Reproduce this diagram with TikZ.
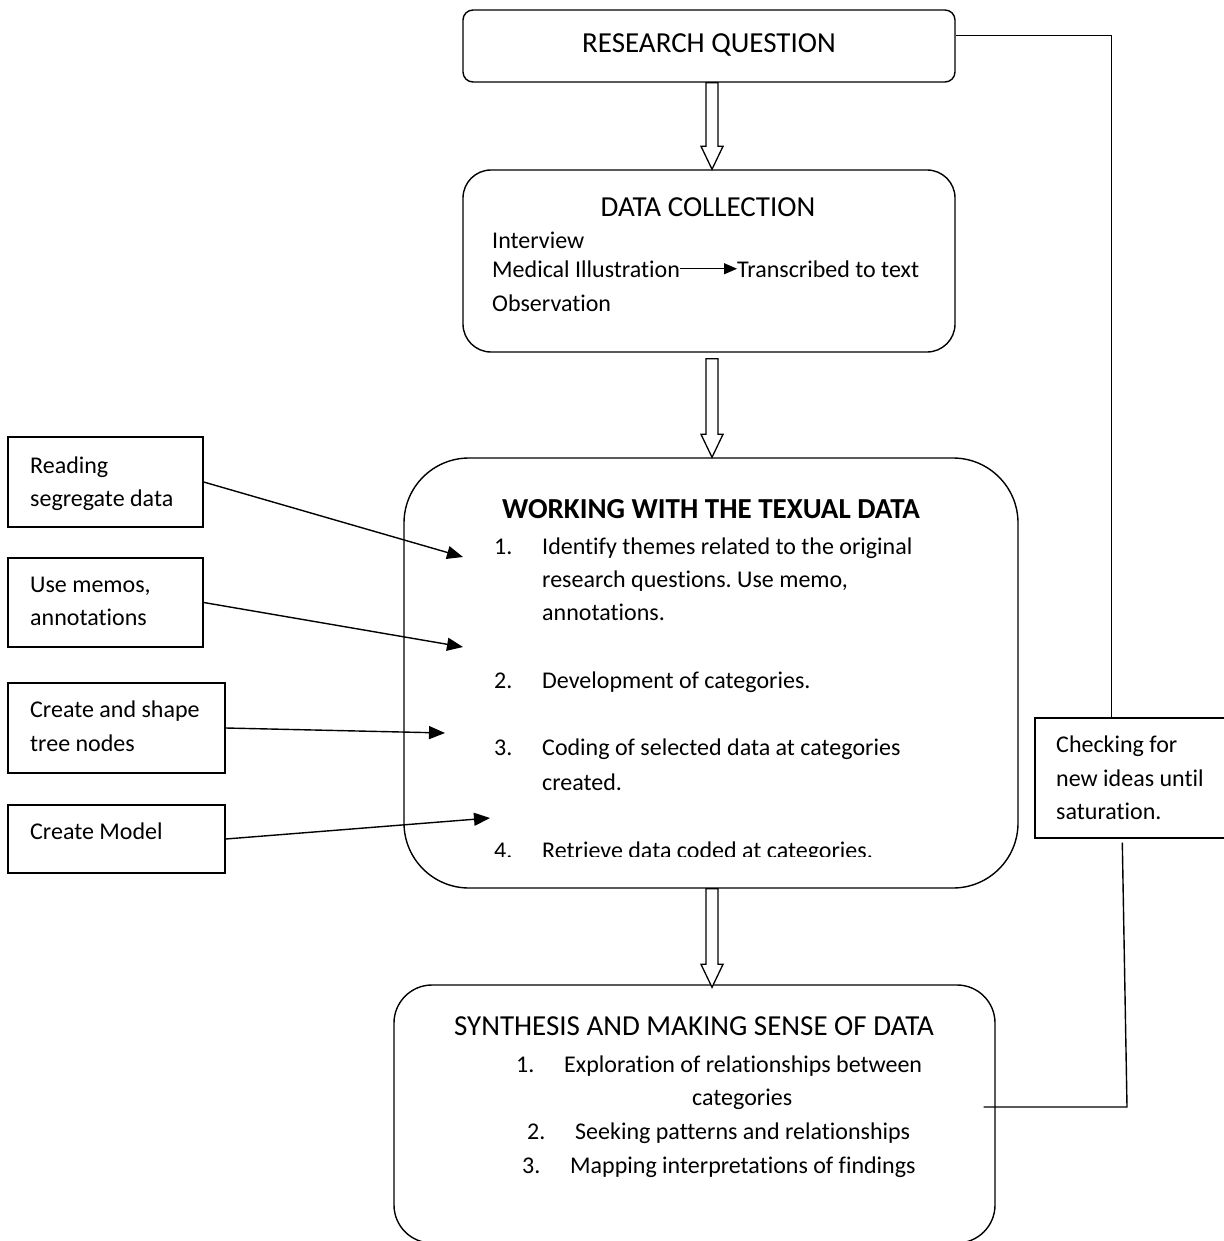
\documentclass[tikz,border=0pt]{standalone}
\usepackage{fontspec}
\setmainfont{Carlito}[Ligatures={NoCommon,NoContextual}]
\usetikzlibrary{arrows.meta,calc}
\frenchspacing
\newcommand\bodyfont{\fontsize{24}{30}\selectfont}
\newcommand\headfont{\fontsize{29}{34}\selectfont}
\newcommand\harrow[2]{%
  \draw[hol] ($(#1)+(-6,0)$) -- ($(#2)+(-6,-23)$) -- ($(#2)+(-11,-23)$) -- (#2)
    -- ($(#2)+(11,-23)$) -- ($(#2)+(6,-23)$) -- ($(#1)+(6,0)$) -- cycle;}
\begin{document}
\begin{tikzpicture}[x=1pt,y=-1pt,
  box/.style={draw, line width=1.4pt, inner sep=0pt},
  lw/.style={anchor=base west, inner sep=0pt, font=\bodyfont},
  lc/.style={anchor=base, inner sep=0pt, font=\bodyfont},
  hd/.style={anchor=base, inner sep=0pt, font=\headfont},
  arr/.style={line width=1.4pt, -{Triangle[length=16pt,width=13pt]}},
  arrs/.style={line width=1.2pt, -{Triangle[length=13pt,width=11pt]}},
  ln/.style={line width=1.4pt},
  hol/.style={draw, line width=1.3pt, fill=white, line join=miter}]
\useasboundingbox (0,0) rectangle (1223,1241);
\fill[white] (0,0) rectangle (1223,1241);

% main boxes
\node[box, rounded corners=10pt, minimum width=492pt, minimum height=72pt] (rq) at (709,46) {};
\node[box, rounded corners=28pt, minimum width=492pt, minimum height=182pt] (dc) at (709,261) {};
\node[box, rounded corners=65pt, minimum width=614pt, minimum height=430pt] (wk) at (711,673) {};
\node[box, rounded corners=38pt, minimum width=601pt, minimum height=258pt] (sy) at (694.5,1114) {};

% side boxes
\node[box, minimum width=195pt, minimum height=90pt] (b1) at (105.5,482) {};
\node[box, minimum width=195pt, minimum height=89pt] (b2) at (105.5,602.5) {};
\node[box, minimum width=217pt, minimum height=90pt] (b3) at (116.5,728) {};
\node[box, minimum width=217pt, minimum height=68pt] (b4) at (116.5,839) {};
\node[box, minimum width=190pt, minimum height=120pt] (ck) at (1130,778) {};

% texts: research question
\node[hd] (trq) at (709,53) {RESEARCH QUESTION};

% data collection
\node[hd] (tdc) at (708,217) {DATA COLLECTION};
\node[lw] (tiv) at (492,248) {Interview};
\node[lw] (tmi) at (492,277) {Medical Illustration};
\node[lw] (ttt) at (737,277) {Transcribed to text};
\node[lw] (tob) at (492,311) {Observation};
\draw[arrs] (tmi.east) -- (ttt.west);

% working box
\node[hd, font=\headfont\bfseries] (twk) at (711,518) {WORKING WITH THE TEXUAL DATA};
\node[lw] (n1) at (494,554) {1.};
\node[lw] (w1a) at (542,554) {Identify themes related to the original};
\node[lw] (w1b) at (542,587) {research questions. Use memo,};
\node[lw] (w1c) at (542,620) {annotations.};
\node[lw] (n2) at (494,688) {2.};
\node[lw] (w2a) at (542,688) {Development of categories.};
\node[lw] (n3) at (494,755) {3.};
\node[lw] (w3a) at (542,755) {Coding of selected data at categories};
\node[lw] (w3b) at (542,790) {created.};
\begin{scope}
\clip (420,820) rectangle (1000,856);
\node[lw] (n4) at (494,858) {4.};
\node[lw] (w4a) at (542,858) {Retrieve data coded at categories.};
\end{scope}

% synthesis
\node[hd] (tsy) at (694,1035) {SYNTHESIS AND MAKING SENSE OF DATA};
\node[lw] (s1n) at (516,1072) {1.};
\node[lw] (s1a) at (564,1072) {Exploration of relationships between};
\node[lw] (s1b) at (692,1105) {categories};
\node[lw] (s2n) at (527,1139) {2.};
\node[lw] (s2a) at (575,1139) {Seeking patterns and relationships};
\node[lw] (s3n) at (522,1173) {3.};
\node[lw] (s3a) at (570,1173) {Mapping interpretations of findings};

% side box texts
\node[lw] (l1a) at (30,473) {Reading};
\node[lw] (l1b) at (30,506) {segregate data};
\node[lw] (l2a) at (30,592) {Use memos,};
\node[lw] (l2b) at (30,625) {annotations};
\node[lw] (l3a) at (30,717) {Create and shape};
\node[lw] (l3b) at (30,751) {tree nodes};
\node[lw] (l4a) at (30,839) {Create Model};
\node[lw] (c1) at (1056,752) {Checking for};
\node[lw] (c2) at (1056,786) {new ideas until};
\node[lw] (c3) at (1056,819) {saturation.};

% hollow arrows
\coordinate (h1s) at ($(rq.south)+(3,0)$);
\coordinate (h1e) at (h1s |- dc.north);
\coordinate (h2s) at ($(dc.south)+(3,6)$);
\coordinate (h2e) at (h2s |- wk.north);
\coordinate (h3s) at ($(wk.south)+(1,0)$);
\coordinate (h3e) at ($(h3s |- sy.north)+(0,3)$);
\harrow{h1s}{h1e}
\harrow{h2s}{h2e}
\harrow{h3s}{h3e}

% side arrows
\coordinate (p1) at (463,557);
\coordinate (p2) at (463,647);
\coordinate (p3) at (445,733);
\coordinate (p4) at (490,818);
\draw[arr] (b1.east) -- (p1);
\draw[arr] (b2.east) -- (p2);
\draw[arr] (b3.east) -- (p3);
\draw[arr] (b4.east) -- (p4);

% feedback loop
\draw[ln] ($(rq.north east)+(0,26)$) -| ($(ck.north west)+(77,0)$);
\coordinate (cr) at (1127,1107);
\coordinate (fb) at ($(sy.east)+(-12,-7)$);
\draw[ln] ($(ck.south west)+(88,4)$) -- (cr) -- (fb);
\end{tikzpicture}
\end{document}
